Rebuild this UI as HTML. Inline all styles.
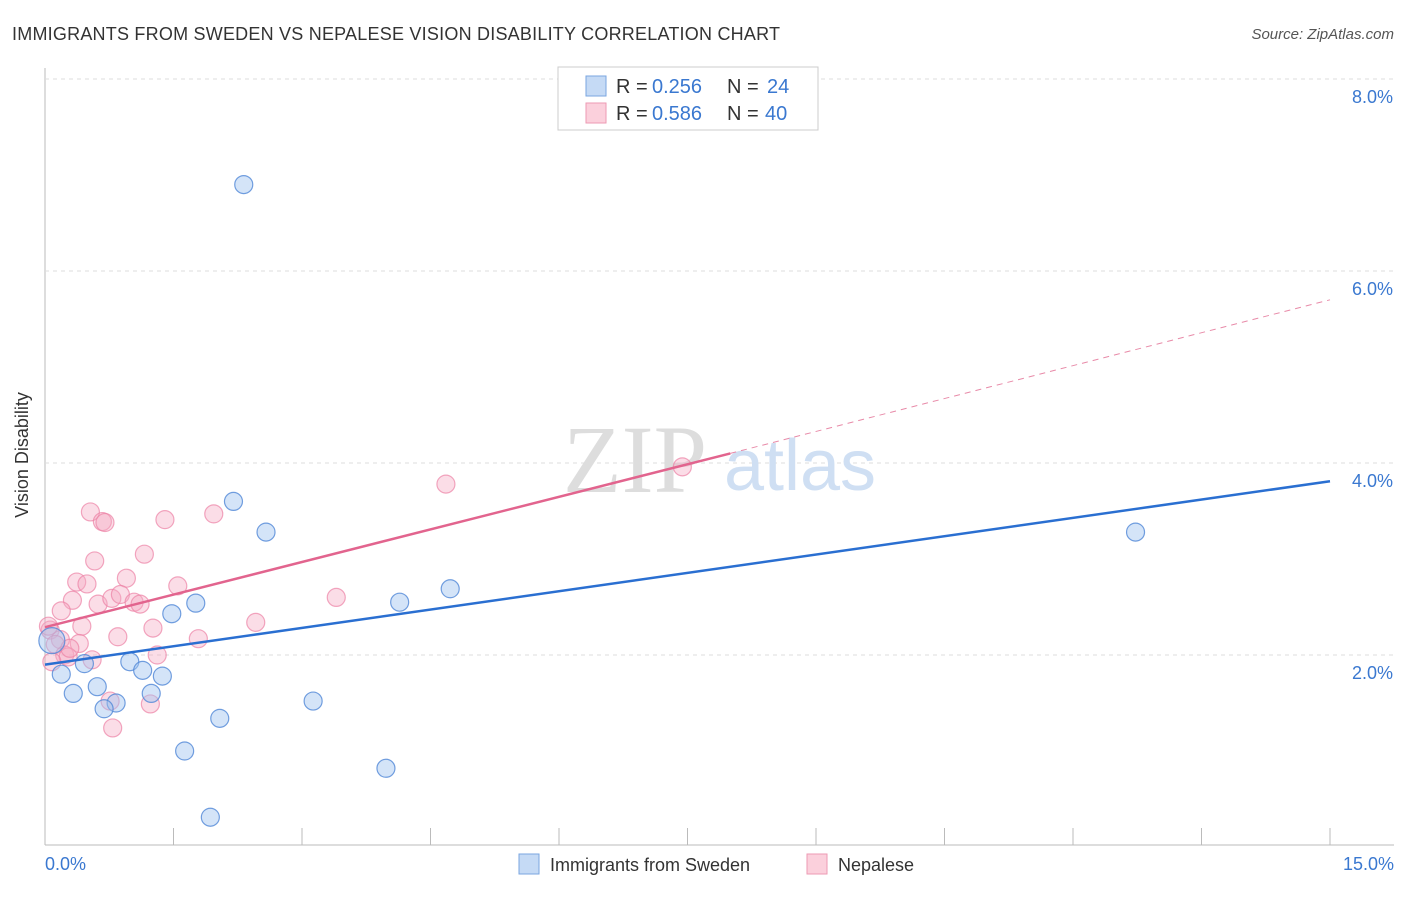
<!DOCTYPE html>
<html><head><meta charset="utf-8"><style>
body{margin:0;background:#fff;font-family:"Liberation Sans",sans-serif;}
</style></head><body>
<svg width="1406" height="892" xmlns="http://www.w3.org/2000/svg" font-family="Liberation Sans, sans-serif">
<text x="12" y="40" font-size="18" fill="#333" textLength="768">IMMIGRANTS FROM SWEDEN VS NEPALESE VISION DISABILITY CORRELATION CHART</text>
<text x="1394" y="39" font-size="15" fill="#555" font-style="italic" text-anchor="end">Source: ZipAtlas.com</text>
<g id="grid"></g>
<text x="635" y="492" font-size="96" fill="#ddd" font-family="Liberation Serif, serif" text-anchor="middle">ZIP</text>
<text x="800" y="490" font-size="72" fill="#cfdff3" text-anchor="middle">atlas</text>
<g id="pts"></g>
<g id="lines"></g>
<text x="28" y="455" font-size="18" fill="#333" text-anchor="middle" transform="rotate(-90 28 455)">Vision Disability</text>
<text x="45" y="870" font-size="18" fill="#3a78d0">0.0%</text>
<text x="1394" y="870" font-size="18" fill="#3a78d0" text-anchor="end">15.0%</text>
<g>
<rect x="558" y="67" width="260" height="63" fill="#fff" stroke="#ccc"/>
<rect x="586" y="76" width="20" height="20" fill="#c5daf5" stroke="#7aa6e0"/>
<rect x="586" y="103" width="20" height="20" fill="#fbd0dc" stroke="#ee9ab3"/>
<text x="616" y="93" font-size="20" fill="#333">R =</text>
<text x="652" y="93" font-size="20" fill="#3a78d0">0.256</text>
<text x="727" y="93" font-size="20" fill="#333">N =</text>
<text x="767" y="93" font-size="20" fill="#3a78d0">24</text>
<text x="616" y="120" font-size="20" fill="#333">R =</text>
<text x="652" y="120" font-size="20" fill="#3a78d0">0.586</text>
<text x="727" y="120" font-size="20" fill="#333">N =</text>
<text x="765" y="120" font-size="20" fill="#3a78d0">40</text>
</g>
<g>
<rect x="519" y="854" width="20" height="20" fill="#c5daf5" stroke="#7aa6e0"/>
<text x="550" y="871" font-size="18" fill="#333">Immigrants from Sweden</text>
<rect x="807" y="854" width="20" height="20" fill="#fbd0dc" stroke="#ee9ab3"/>
<text x="838" y="871" font-size="18" fill="#333">Nepalese</text>
</g>
</svg>
<script>
const yTicks=[2,4,6,8];
const xTicks=[0,1.5,3,4.5,6,7.5,9,10.5,12,13.5,15];
const swedenX=[2.32,2.2,2.58,12.73,4.73,4.14,1.76,1.48,0.99,0.46,1.14,1.37,0.19,0.61,1.24,0.33,0.83,0.69,3.13,2.04,1.63,3.98,1.93,0.08];
const swedenY=[6.9,3.6,3.28,3.28,2.69,2.55,2.54,2.43,1.93,1.91,1.84,1.78,1.8,1.67,1.6,1.6,1.5,1.44,1.52,1.34,1.0,0.82,0.31,2.15];
const nepalX=[0.53,0.67,0.7,1.4,1.97,4.68,7.44,1.16,0.58,0.37,0.49,0.95,0.32,0.19,0.62,0.78,0.88,1.04,1.11,1.55,1.26,0.43,2.46,3.4,0.85,1.79,0.4,0.06,0.18,0.12,0.23,0.27,0.55,1.31,1.23,0.76,0.79,0.08,0.04,0.29];
const nepalY=[3.49,3.39,3.38,3.41,3.47,3.78,3.96,3.05,2.98,2.76,2.74,2.8,2.57,2.46,2.53,2.59,2.63,2.55,2.53,2.72,2.28,2.3,2.34,2.6,2.19,2.17,2.12,2.26,2.16,2.11,2.0,1.98,1.95,2.0,1.49,1.52,1.24,1.93,2.3,2.07];
const swedenTrend=[[0,1.9],[15,3.81]];
const nepalTrend=[[0,2.29],[8,4.1]];
const nepalDash=[[8,4.1],[15,5.7]];
const X=v=>45+v/15*1285, Y=v=>847-v*96;
const NS='http://www.w3.org/2000/svg';
function mk(t,a,p){const e=document.createElementNS(NS,t);for(const k in a)e.setAttribute(k,a[k]);p.appendChild(e);return e;}
const g=document.getElementById('grid');
let ax=mk('line',{x1:45,y1:68,x2:45,y2:845,stroke:'#bbb'},g);


let bx=mk('line',{x1:45,y1:845,x2:1394,y2:845,stroke:'#bbb'},g);


yTicks.forEach(t=>{
 const l=mk('line',{x1:45,y1:Y(t),x2:1394,y2:Y(t),stroke:'#ddd','stroke-dasharray':'4,4'},g);
 
 
 const tx=mk('text',{x:1393,y:Y(t)+24,'font-size':18,fill:'#3a78d0','text-anchor':'end'},g);
 tx.textContent=t.toFixed(1)+'%';
 
 
});
xTicks.forEach(t=>{
 const l=mk('line',{x1:X(t),y1:828,x2:X(t),y2:845,stroke:'#bbb'},g);
 
 
});
const p=document.getElementById('pts');
nepalX.forEach((v,i)=>{
 const c=mk('circle',{cx:X(v),cy:Y(nepalY[i]),r:9,fill:'rgba(246,170,195,0.4)',stroke:'rgba(236,130,165,0.7)','stroke-width':1.2},p);
 
 
});
swedenX.forEach((v,i)=>{
 const c=mk('circle',{cx:X(v),cy:Y(swedenY[i]),r:i==23?13:9,fill:'rgba(160,195,240,0.45)',stroke:'rgba(80,135,215,0.8)','stroke-width':1.2},p);
 
 
});
const L=document.getElementById('lines');
function ln(a,st,w,d,name){const e=mk('line',{x1:X(a[0][0]),y1:Y(a[0][1]),x2:X(a[1][0]),y2:Y(a[1][1]),stroke:st,'stroke-width':w},L);if(d)e.setAttribute('stroke-dasharray',d);
 
 }
ln(nepalDash,'#e88aa8',1,'6,5','nepalese-trend-extension');
ln(nepalTrend,'#e2648e',2.5,null,'nepalese-trend-line');
ln(swedenTrend,'#2a6fd1',2.5,null,'sweden-trend-line');
</script>
</body></html>
